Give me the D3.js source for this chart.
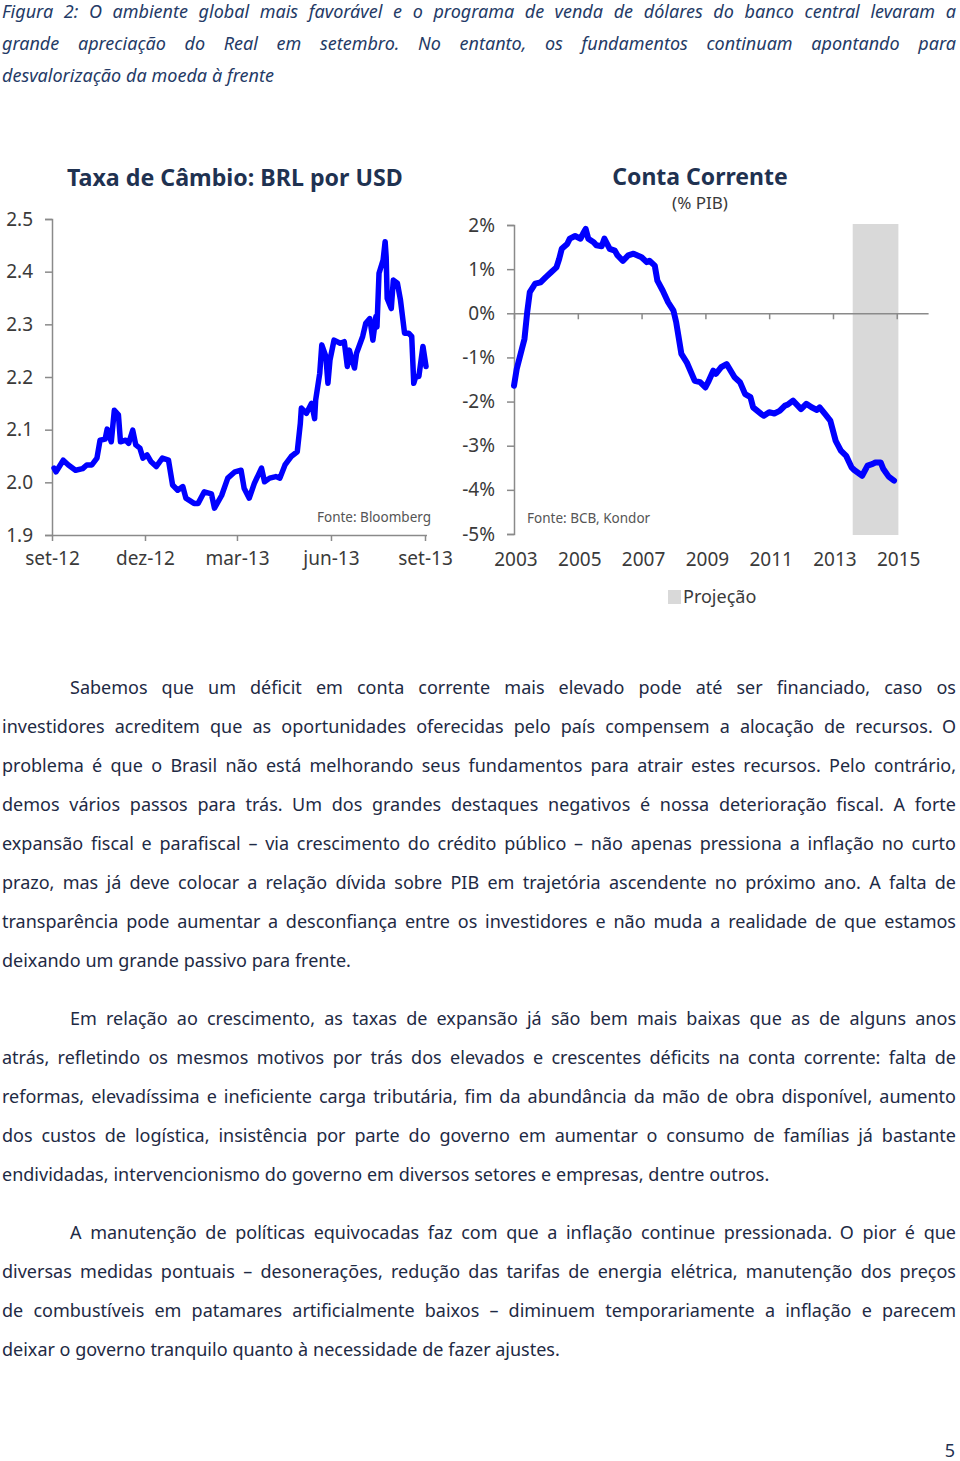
<!DOCTYPE html>
<html>
<head>
<meta charset="utf-8">
<script src="https://cdn.jsdelivr.net/npm/d3@7"></script>
<style>
  html, body { margin: 0; padding: 0; background: #fff; }
  svg { display: block; }
  text { font-family: "Noto Sans", "DejaVu Sans", sans-serif; }
</style>
</head>
<body>
<svg id="page" width="960" height="1461"></svg>
<script>
// ---------------- DATA ----------------
const fxDates = ["2012-09-03","2012-09-05","2012-09-12","2012-09-17","2012-09-24","2012-10-01","2012-10-05","2012-10-10","2012-10-15","2012-10-18","2012-10-23","2012-10-25","2012-10-29","2012-11-01","2012-11-05","2012-11-07","2012-11-12","2012-11-15","2012-11-19","2012-11-22","2012-11-26","2012-11-29","2012-12-03","2012-12-07","2012-12-12","2012-12-18","2012-12-24","2012-12-28","2013-01-02","2013-01-07","2013-01-10","2013-01-18","2013-01-22","2013-01-28","2013-02-04","2013-02-07","2013-02-14","2013-02-20","2013-02-27","2013-03-05","2013-03-08","2013-03-13","2013-03-18","2013-03-25","2013-03-28","2013-04-02","2013-04-08","2013-04-12","2013-04-17","2013-04-23","2013-04-29","2013-05-02","2013-05-03","2013-05-08","2013-05-13","2013-05-16","2013-05-17","2013-05-21","2013-05-23","2013-05-27","2013-05-29","2013-05-31","2013-06-04","2013-06-10","2013-06-14","2013-06-17","2013-06-19","2013-06-21","2013-06-24","2013-06-26","2013-07-02","2013-07-05","2013-07-09","2013-07-12","2013-07-15","2013-07-16","2013-07-18","2013-07-22","2013-07-24","2013-07-25","2013-07-26","2013-07-30","2013-08-01","2013-08-05","2013-08-08","2013-08-12","2013-08-16","2013-08-19","2013-08-21","2013-08-23","2013-08-26","2013-08-30","2013-09-02"];
const fxValues = [2.027,2.020,2.042,2.033,2.023,2.026,2.033,2.033,2.046,2.080,2.082,2.101,2.077,2.137,2.128,2.077,2.080,2.074,2.099,2.071,2.065,2.046,2.052,2.039,2.030,2.046,2.042,1.995,1.985,1.992,1.970,1.960,1.960,1.982,1.978,1.951,1.975,2.008,2.020,2.023,1.989,1.970,1.998,2.027,2.001,2.008,2.011,2.008,2.033,2.049,2.058,2.112,2.141,2.131,2.150,2.121,2.156,2.207,2.261,2.239,2.188,2.232,2.270,2.264,2.267,2.220,2.251,2.236,2.217,2.245,2.277,2.302,2.311,2.270,2.315,2.295,2.397,2.422,2.457,2.428,2.349,2.330,2.384,2.378,2.346,2.283,2.283,2.277,2.188,2.201,2.201,2.258,2.220];
const fxTickLabels = ["set-12","dez-12","mar-13","jun-13","set-13"];
const fxTickDates = ["2012-09-01","2012-12-01","2013-03-01","2013-06-01","2013-09-01"];
const fxYTicks = [1.9,2.0,2.1,2.2,2.3,2.4,2.5];

const caDates = ["2003-01","2003-02","2003-04","2003-05","2003-06","2003-07","2003-09","2003-11","2004-01","2004-03","2004-05","2004-06","2004-07","2004-09","2004-10","2004-12","2005-02","2005-03","2005-04","2005-05","2005-07","2005-08","2005-10","2005-11","2006-01","2006-03","2006-04","2006-06","2006-08","2006-10","2007-01","2007-03","2007-04","2007-06","2007-07","2007-09","2007-11","2008-01","2008-02","2008-03","2008-04","2008-06","2008-09","2008-11","2009-01","2009-02","2009-04","2009-05","2009-07","2009-09","2009-12","2010-02","2010-04","2010-06","2010-07","2010-10","2010-11","2011-01","2011-03","2011-05","2011-07","2011-08","2011-10","2012-01","2012-03","2012-05","2012-07","2012-08","2012-10","2012-12","2013-02","2013-04","2013-06","2013-08","2013-09","2013-12","2014-02","2014-04","2014-05","2014-07","2014-08","2014-10","2014-12"];
const caValues = [-1.64,-1.26,-0.81,-0.58,0.02,0.48,0.67,0.70,0.82,0.93,1.04,1.23,1.46,1.57,1.69,1.75,1.69,1.80,1.91,1.69,1.61,1.54,1.52,1.69,1.46,1.42,1.31,1.19,1.31,1.35,1.27,1.16,1.19,1.08,0.74,0.51,0.25,0.06,-0.20,-0.55,-0.92,-1.11,-1.53,-1.56,-1.68,-1.56,-1.30,-1.37,-1.22,-1.15,-1.45,-1.56,-1.83,-1.90,-2.13,-2.28,-2.32,-2.24,-2.27,-2.21,-2.09,-2.07,-1.98,-2.17,-2.05,-2.13,-2.19,-2.13,-2.28,-2.43,-2.89,-3.11,-3.23,-3.49,-3.55,-3.68,-3.45,-3.41,-3.38,-3.38,-3.53,-3.70,-3.79];
const caYTicks = [-5,-4,-3,-2,-1,0,1,2];
const caXTickYears = [2003,2005,2007,2009,2011,2013,2015];
const projection = ["2013-08-15","2015-01-20"];

const captionLines = [
  "Figura 2: O ambiente global mais favorável e o programa de venda de dólares do banco central levaram a",
  "grande apreciação do Real em setembro. No entanto, os fundamentos continuam apontando para",
  "desvalorização da moeda à frente"
];
const paragraphs = [
  ["Sabemos que um déficit em conta corrente mais elevado pode até ser financiado, caso os",
   "investidores acreditem que as oportunidades oferecidas pelo país compensem a alocação de recursos. O",
   "problema é que o Brasil não está melhorando seus fundamentos para atrair estes recursos. Pelo contrário,",
   "demos vários passos para trás. Um dos grandes destaques negativos é nossa deterioração fiscal. A forte",
   "expansão fiscal e parafiscal – via crescimento do crédito público – não apenas pressiona a inflação no curto",
   "prazo, mas já deve colocar a relação dívida sobre PIB em trajetória ascendente no próximo ano. A falta de",
   "transparência pode aumentar a desconfiança entre os investidores e não muda a realidade de que estamos",
   "deixando um grande passivo para frente."],
  ["Em relação ao crescimento, as taxas de expansão já são bem mais baixas que as de alguns anos",
   "atrás, refletindo os mesmos motivos por trás dos elevados e crescentes déficits na conta corrente: falta de",
   "reformas, elevadíssima e ineficiente carga tributária, fim da abundância da mão de obra disponível, aumento",
   "dos custos de logística, insistência por parte do governo em aumentar o consumo de famílias já bastante",
   "endividadas, intervencionismo do governo em diversos setores e empresas, dentre outros."],
  ["A manutenção de políticas equivocadas faz com que a inflação continue pressionada. O pior é que",
   "diversas medidas pontuais – desonerações, redução das tarifas de energia elétrica, manutenção dos preços",
   "de combustíveis em patamares artificialmente baixos – diminuem temporariamente a inflação e parecem",
   "deixar o governo tranquilo quanto à necessidade de fazer ajustes."]
];

// ---------------- DRAWING ----------------
const svg = d3.select("#page");
const NAVY = "#1f3251";
const TXT = "#1e2a44";
const AXIS = "#8a8a8a";
const LBL = "#3a3a3a";
const BLUE = "#0000ff";

function justifyLine(g, str, x0, x1, y, justify, opts) {
  const t = g.append("text").attr("y", y)
    .attr("font-size", opts.size).attr("fill", opts.color)
    .attr("font-style", opts.italic ? "italic" : "normal");
  const words = str.split(" ");
  const spans = words.map(w => t.append("tspan").text(w));
  const widths = spans.map(s => s.node().getComputedTextLength());
  const total = d3.sum(widths);
  const gap = (justify && words.length > 1) ? (x1 - x0 - total) / (words.length - 1) : opts.size * 0.27;
  let x = x0;
  spans.forEach((s, i) => { s.attr("x", x); x += widths[i] + gap; });
}

// Caption
const capG = svg.append("g");
captionLines.forEach((l, i) => {
  justifyLine(capG, l, 2, 956, 18 + i * 32, i < captionLines.length - 1, {size: 18, color: "#243a66", italic: true});
});

// Body paragraphs
const bodyG = svg.append("g");
const paraStart = [694, 1025, 1239];
paragraphs.forEach((p, pi) => {
  p.forEach((l, li) => {
    const x0 = li === 0 ? 70 : 2;
    justifyLine(bodyG, l, x0, 956, paraStart[pi] + li * 39, li < p.length - 1, {size: 18, color: TXT});
  });
});

// Page number
svg.append("text").attr("x", 955).attr("y", 1457).attr("text-anchor", "end")
  .attr("font-size", 18).attr("fill", NAVY).attr("font-family", "Liberation Sans, sans-serif").text("5");

// ---------- Left chart: FX ----------
const parseDay = d3.timeParse("%Y-%m-%d");
const fx = fxDates.map((d, i) => ({date: parseDay(d), value: fxValues[i]}));
const xFx = d3.scaleTime().domain([parseDay(fxTickDates[0]), parseDay(fxTickDates[4])]).range([52, 425]);
const yFx = d3.scaleLinear().domain([1.9, 2.5]).range([535, 219]);
const gL = svg.append("g");

gL.append("text").attr("x", 67).attr("y", 186).attr("font-size", 23.2).attr("font-weight", "bold")
  .attr("fill", NAVY).text("Taxa de Câmbio: BRL por USD");

const yAxL = gL.append("g").attr("transform", "translate(52,0)")
  .call(d3.axisLeft(yFx).tickValues(fxYTicks).tickFormat(d3.format(".1f")).tickSize(7).tickPadding(12));
const xAxL = gL.append("g").attr("transform", "translate(0,535)")
  .call(d3.axisBottom(xFx).tickValues(fxTickDates.map(parseDay))
    .tickFormat((d, i) => fxTickLabels[i]).tickSize(6).tickPadding(11));
xAxL.select(".domain").attr("d", "M52,0.5H427");

gL.append("text").attr("x", 431).attr("y", 522).attr("text-anchor", "end")
  .attr("font-size", 13.5).attr("fill", "#555").text("Fonte: Bloomberg");

gL.append("path").datum(fx)
  .attr("fill", "none").attr("stroke", BLUE).attr("stroke-width", 5.5)
  .attr("stroke-linejoin", "round").attr("stroke-linecap", "round")
  .attr("d", d3.line().x(d => xFx(d.date)).y(d => yFx(d.value)));

// ---------- Right chart: current account ----------
const parseMonth = d3.timeParse("%Y-%m");
const ca = caDates.map((d, i) => ({date: parseMonth(d), value: caValues[i]}));
const xCa = d3.scaleTime().domain([new Date(2003, 0, 1), new Date(2016, 0, 1)]).range([514, 928.6]);
const yCa = d3.scaleLinear().domain([-5, 2]).range([534, 225]);
const gR = svg.append("g");

gR.append("text").attr("x", 700).attr("y", 185).attr("text-anchor", "middle").attr("font-size", 23)
  .attr("font-weight", "bold").attr("fill", NAVY).text("Conta Corrente");
gR.append("text").attr("x", 700).attr("y", 209).attr("text-anchor", "middle").attr("font-size", 17)
  .attr("fill", LBL).text("(% PIB)");

// projection band
gR.append("rect")
  .attr("x", xCa(parseDay(projection[0]))).attr("y", yCa(2) - 1)
  .attr("width", xCa(parseDay(projection[1])) - xCa(parseDay(projection[0])))
  .attr("height", yCa(-5) - yCa(2) + 2)
  .attr("fill", "#d9d9d9");

const yAxR = gR.append("g").attr("transform", "translate(514,0)")
  .call(d3.axisLeft(yCa).tickValues(caYTicks).tickFormat(d => d + "%").tickSize(7).tickPadding(12));
const xAxR = gR.append("g").attr("transform", `translate(0,${yCa(0)})`)
  .call(d3.axisBottom(xCa).tickValues(caXTickYears.map(y => new Date(y, 0, 1))).tickFormat("").tickSize(6));
xAxR.select(".domain").attr("d", `M514,0.5H928.6`);
// year labels at bottom
gR.append("g").selectAll("text").data(caXTickYears).join("text")
  .attr("x", d => xCa(new Date(d, 0, 1)) + 2).attr("y", 566).attr("text-anchor", "middle")
  .attr("font-size", 19).attr("fill", LBL).text(d => d);

gR.append("text").attr("x", 527).attr("y", 523).attr("font-size", 13.5).attr("fill", "#555")
  .text("Fonte: BCB, Kondor");

gR.append("path").datum(ca)
  .attr("fill", "none").attr("stroke", BLUE).attr("stroke-width", 6)
  .attr("stroke-linejoin", "round").attr("stroke-linecap", "round")
  .attr("d", d3.line().x(d => xCa(d.date)).y(d => yCa(d.value)));

// legend
const lg = gR.append("g");
lg.append("rect").attr("x", 668).attr("y", 590).attr("width", 13).attr("height", 14).attr("fill", "#d9d9d9");
lg.append("text").attr("x", 683).attr("y", 603).attr("font-size", 18).attr("fill", LBL).text("Projeção");

// axis styling
svg.selectAll(".domain").attr("stroke", AXIS).attr("stroke-width", 1.5);
svg.selectAll(".tick line").attr("stroke", AXIS).attr("stroke-width", 1.5);
svg.selectAll(".tick text").attr("font-size", 19).attr("fill", LBL)
  .attr("font-family", "'Noto Sans', sans-serif");
</script>
</body>
</html>
